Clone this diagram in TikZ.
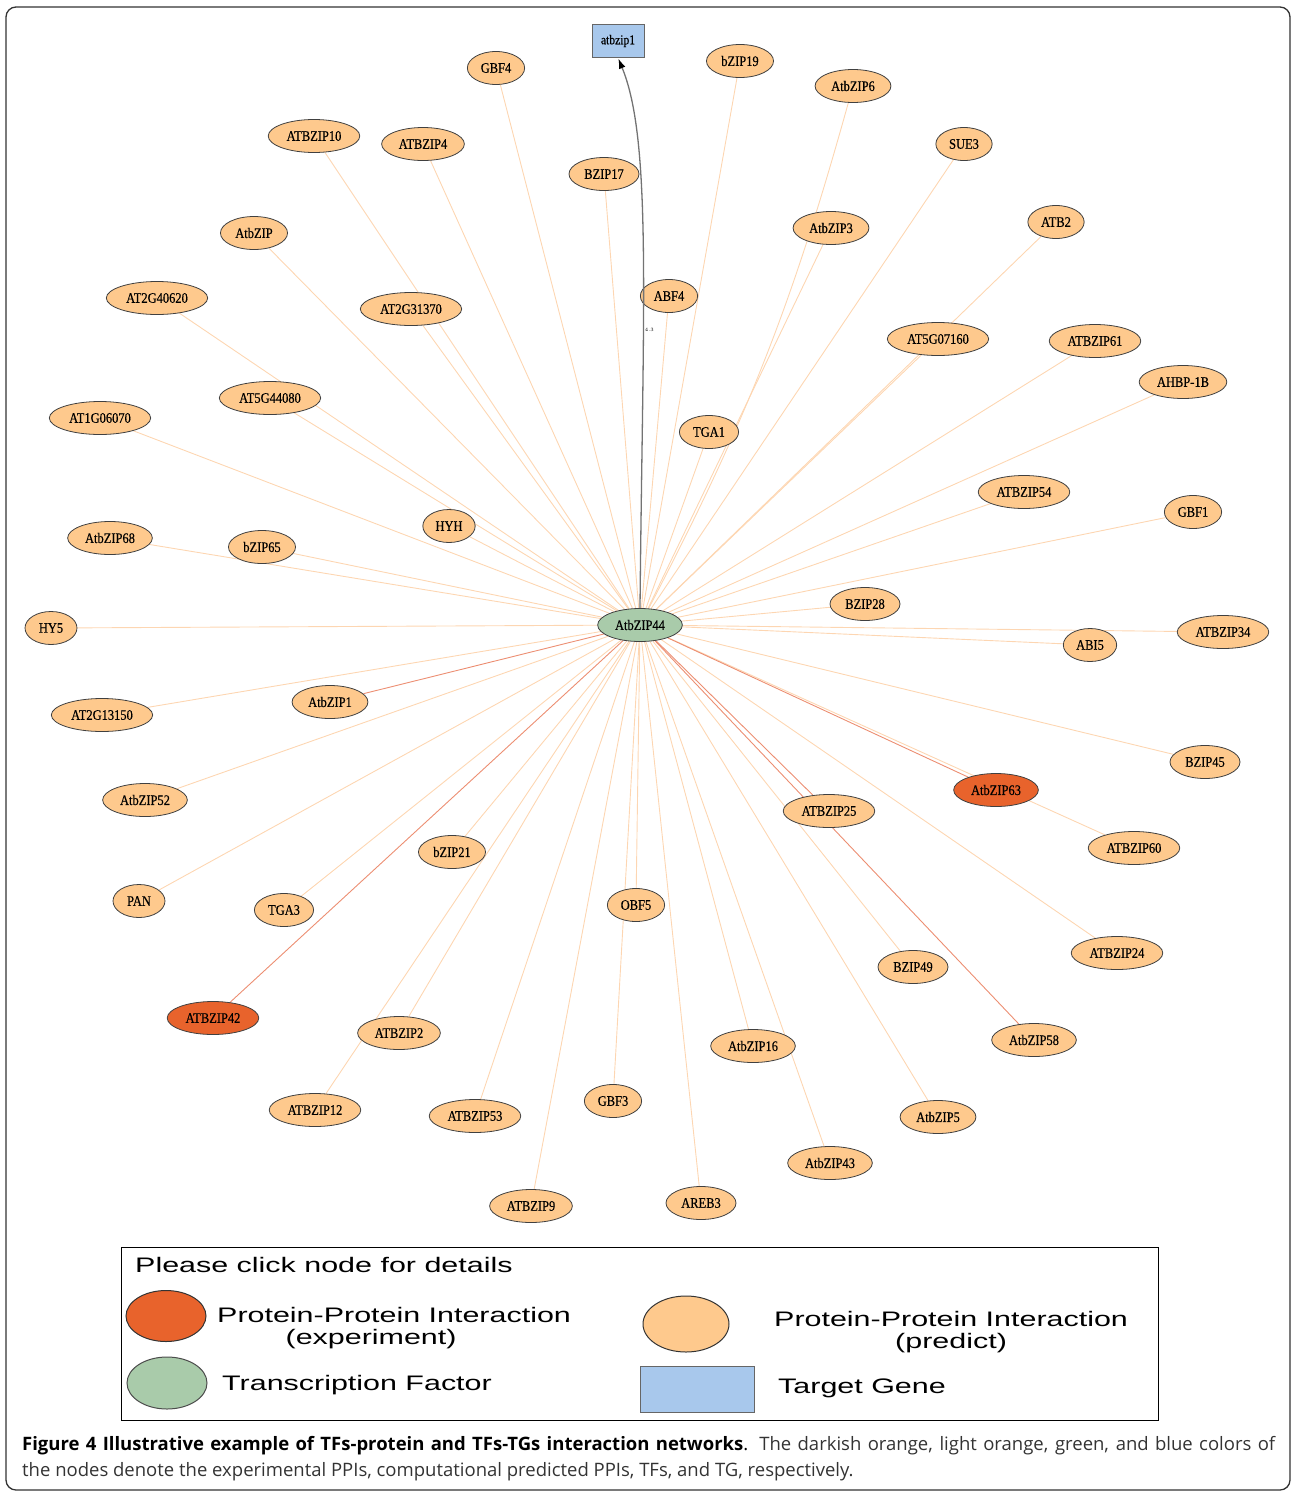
\documentclass[tikz,border=0pt]{standalone}
\usepackage{fontspec}
\usepackage{xcolor}
\usepackage{tikz}
\usetikzlibrary{arrows.meta, shapes.geometric, backgrounds}
\newfontfamily\labelfont[FakeStretch=0.86, FakeBold=0.4]{Liberation Serif}
\newfontfamily\legendfont[FakeStretch=1.45]{Liberation Sans}
\newfontfamily\capfont{Open Sans}
\definecolor{predFill}{HTML}{FEC98D}
\definecolor{expFill}{HTML}{E8632C}
\definecolor{tfFill}{HTML}{A9CBAA}
\definecolor{tgFill}{HTML}{A8C8EC}
\definecolor{predLine}{HTML}{FDD6B2}
\definecolor{expLine}{HTML}{EC8E72}
\tikzset{
  gene/.style={ellipse, draw=black!75, line width=0.8pt, minimum width=52pt, minimum height=33pt,
    inner xsep=5pt, inner ysep=1pt, font=\labelfont\fontsize{14.5}{16}\selectfont},
  ppipred/.style={gene, fill=predFill},
  ppiexp/.style={gene, fill=expFill},
  tfnode/.style={gene, fill=tfFill},
  tgnode/.style={rectangle, draw=black!60, fill=tgFill, minimum width=52pt, minimum height=33pt,
    font=\labelfont\fontsize{13.5}{15}\selectfont},
  predline/.style={draw=predLine, line width=0.9pt},
  expline/.style={draw=expLine, line width=0.9pt},
  legtext/.style={font=\legendfont\fontsize{21}{22}\selectfont, inner sep=0pt}
}

\begin{document}
\begin{tikzpicture}[x=1pt, y=-1pt]
  \useasboundingbox (0,0) rectangle (1292,1492);
  \draw[rounded corners=10pt, line width=1.3pt, black!80] (6,7) rectangle (1290,1490);

  % transcription factor and target gene
  \node[tfnode] (atbzip44) at (640,625) {AtbZIP44};
  \node[tgnode] (tgatbzip1) at (618,41) {atbzip1};

  % predicted PPIs
  \node[ppipred] (gbf4) at (496,68) {GBF4};
  \node[ppipred] (bzip19) at (740,61) {bZIP19};
  \node[ppipred] (atbzip6) at (853,86) {AtbZIP6};
  \node[ppipred] (atbzip10) at (314,136) {ATBZIP10};
  \node[ppipred] (atbzip4) at (423,144) {ATBZIP4};
  \node[ppipred] (bzip17) at (604,174) {BZIP17};
  \node[ppipred] (sue3) at (964,144) {SUE3};
  \node[ppipred] (atbzip) at (254,233) {AtbZIP};
  \node[ppipred] (atbzip3) at (831,228) {AtbZIP3};
  \node[ppipred] (atb2) at (1056,222) {ATB2};
  \node[ppipred] (at2g40620) at (157,298) {AT2G40620};
  \node[ppipred] (at2g31370) at (411,309) {AT2G31370};
  \node[ppipred] (abf4) at (669,296) {ABF4};
  \node[ppipred] (at5g07160) at (938,339) {AT5G07160};
  \node[ppipred] (atbzip61) at (1095,341) {ATBZIP61};
  \node[ppipred] (ahbp1b) at (1183,382) {AHBP-1B};
  \node[ppipred] (at5g44080) at (270,398) {AT5G44080};
  \node[ppipred] (at1g06070) at (100,418) {AT1G06070};
  \node[ppipred] (tga1) at (709,432) {TGA1};
  \node[ppipred] (hyh) at (449,526) {HYH};
  \node[ppipred] (atbzip54) at (1024,492) {ATBZIP54};
  \node[ppipred] (gbf1) at (1193,512) {GBF1};
  \node[ppipred] (atbzip68) at (110,538) {AtbZIP68};
  \node[ppipred] (bzip65) at (262,547) {bZIP65};
  \node[ppipred] (bzip28) at (865,604) {BZIP28};
  \node[ppipred] (hy5) at (51,628) {HY5};
  \node[ppipred] (abi5) at (1090,645) {ABI5};
  \node[ppipred] (atbzip34) at (1223,632) {ATBZIP34};
  \node[ppipred] (atbzip1) at (330,702) {AtbZIP1};
  \node[ppipred] (at2g13150) at (102,715) {AT2G13150};
  \node[ppipred] (bzip45) at (1205,762) {BZIP45};
  \node[ppipred] (atbzip52) at (145,800) {AtbZIP52};
  \node[ppipred] (atbzip25) at (829,811) {ATBZIP25};
  \node[ppipred] (atbzip60) at (1134,848) {ATBZIP60};
  \node[ppipred] (bzip21) at (452,852) {bZIP21};
  \node[ppipred] (pan) at (139,901) {PAN};
  \node[ppipred] (tga3) at (284,910) {TGA3};
  \node[ppipred] (obf5) at (636,905) {OBF5};
  \node[ppipred] (atbzip24) at (1117,953) {ATBZIP24};
  \node[ppipred] (bzip49) at (913,967) {BZIP49};
  \node[ppipred] (atbzip2) at (399,1033) {ATBZIP2};
  \node[ppipred] (atbzip16) at (753,1046) {AtbZIP16};
  \node[ppipred] (atbzip58) at (1034,1040) {AtbZIP58};
  \node[ppipred] (atbzip12) at (315,1110) {ATBZIP12};
  \node[ppipred] (atbzip53) at (475,1116) {ATBZIP53};
  \node[ppipred] (gbf3) at (613,1101) {GBF3};
  \node[ppipred] (atbzip5) at (938,1117) {AtbZIP5};
  \node[ppipred] (atbzip43) at (830,1163) {AtbZIP43};
  \node[ppipred] (atbzip9) at (531,1206) {ATBZIP9};
  \node[ppipred] (areb3) at (701,1203) {AREB3};

  % experimental PPIs
  \node[ppiexp] (atbzip63) at (996,790) {AtbZIP63};
  \node[ppiexp] (atbzip42) at (213,1018) {ATBZIP42};

  \begin{pgfonlayer}{background}
    \foreach \n in {gbf4,bzip19,atbzip10,atbzip4,bzip17,sue3,atbzip,atbzip3,atb2,at2g40620,
        at2g31370,abf4,at5g07160,atbzip61,ahbp1b,at5g44080,at1g06070,tga1,hyh,atbzip54,gbf1,
        atbzip68,bzip65,bzip28,hy5,abi5,atbzip34,at2g13150,bzip45,atbzip52,atbzip60,bzip21,pan,
        tga3,obf5,atbzip24,bzip49,atbzip2,atbzip16,atbzip12,atbzip53,gbf3,atbzip5,atbzip43,
        atbzip9,areb3}
      \draw[predline] (atbzip44) -- (\n);
    \draw[predline] (atbzip44) to[bend right=6] (atbzip6);
    \foreach \n in {atbzip1,atbzip63,atbzip42,atbzip25,atbzip58}
      \draw[expline] (atbzip44) -- (\n);
  \end{pgfonlayer}

  % TF -> TG regulation
  \draw[-{Latex[length=10pt,width=7pt,color=black]}, line width=1.3pt, black!55, shorten >=1pt]
    (atbzip44.north) .. controls (643,300) and (652,140) .. node[pos=0.36, right, inner sep=1pt, font=\fontsize{5}{5}\selectfont, black] {4.3} (tgatbzip1.south);

  % legend
  \draw[line width=0.8pt] (121,1247) rectangle (1158,1420);
  \node[legtext, anchor=west] (legtitle) at (135,1265) {Please click node for details};
  \node[ellipse, draw=black!80, line width=1pt, fill=expFill, minimum width=80pt, minimum height=51pt] (legexp) at (166,1316) {};
  \node[legtext, align=center, anchor=west] (legexptext) at (217,1328) {Protein-Protein Interaction\\(experiment)\hspace*{46pt}};
  \node[ellipse, draw=black!80, line width=1pt, fill=predFill, minimum width=86pt, minimum height=56pt] (legpred) at (686,1324) {};
  \node[legtext, align=center, anchor=west] (legpredtext) at (774,1332) {Protein-Protein Interaction\\(predict)};
  \node[ellipse, draw=black!70, line width=1pt, fill=tfFill, minimum width=80pt, minimum height=52pt] (legtf) at (167,1383) {};
  \node[legtext, anchor=west] (legtftext) at (222,1385) {Transcription Factor};
  \node[rectangle, draw=black!60, line width=1pt, fill=tgFill, minimum width=114pt, minimum height=46pt] (legtg) at (697,1389) {};
  \node[legtext, anchor=west] (legtgtext) at (778,1388) {Target Gene};

  % caption
  \node[anchor=north west, text width=1253pt, align=justify, inner sep=0pt,
    font=\capfont\fontsize{18.5}{26}\selectfont] (caption) at (22,1436)
    {\textbf{Figure 4 Illustrative example of TFs-protein and TFs-TGs interaction networks}.
    {\color{black!80}The darkish orange, light orange, green, and blue colors of\linebreak
    the nodes denote the experimental PPIs, computational predicted PPIs, TFs, and TG, respectively.}};
\end{tikzpicture}
\end{document}
